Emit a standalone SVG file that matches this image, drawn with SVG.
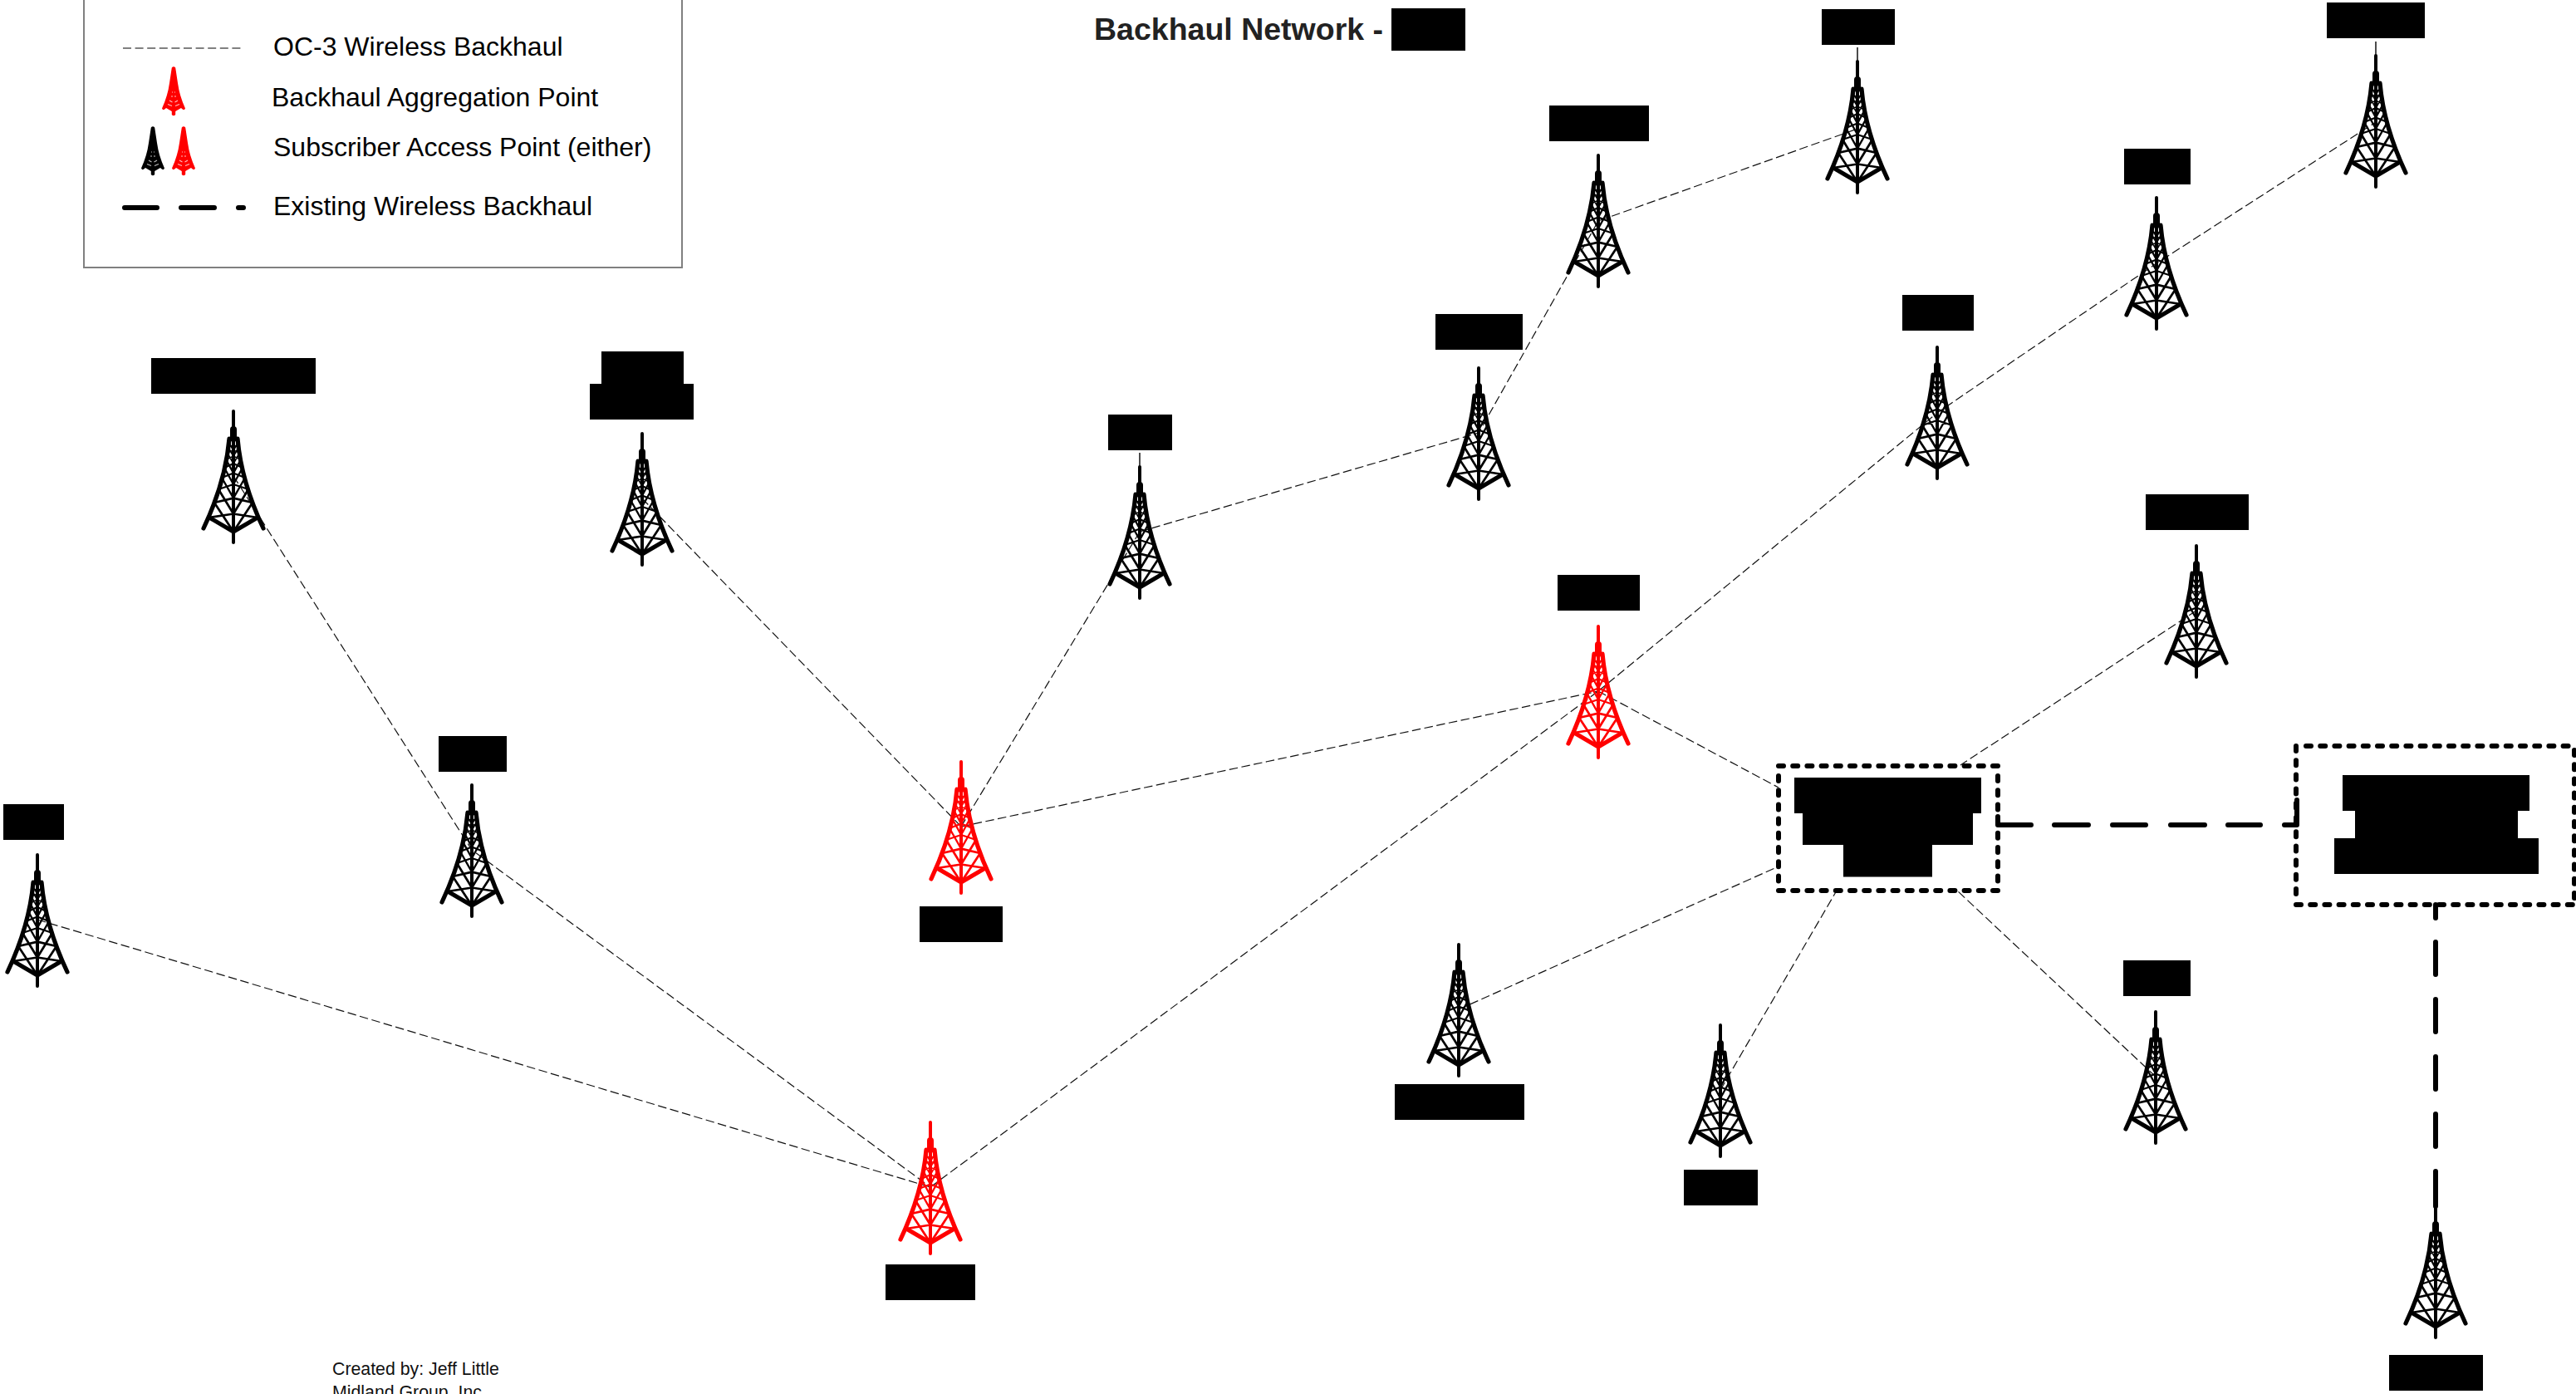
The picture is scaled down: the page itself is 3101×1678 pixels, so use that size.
<svg xmlns="http://www.w3.org/2000/svg" xmlns:xlink="http://www.w3.org/1999/xlink" width="3101" height="1678" viewBox="0 0 3101 1678">
<style>
text{font-family:"Liberation Sans",Arial,sans-serif;fill:#000}
.leg{font-size:32px}
.foot{font-size:21.3px;fill:#111}
.title{font-size:37.5px;font-weight:bold;fill:#222}
.blk{fill:#000}
.t{fill:none;stroke:currentColor;stroke-linecap:round;stroke-linejoin:round}
.black{color:#000}
.red{color:#f00}
.thin{fill:none;stroke:#111;stroke-width:1.2;stroke-dasharray:10.500 4.500}
.ant{fill:none;stroke:#111;stroke-width:1.5}
.heavy{fill:none;stroke:#000;stroke-width:6;stroke-linecap:round;stroke-linejoin:round}
.dot{fill:none;stroke:#000;stroke-width:6;stroke-linecap:round;stroke-dasharray:6 11.200}
</style>
<defs>
<g id="half">
<path class="t" stroke-width="5.200" d="M-5,35C-8,70-18,105-36,143"/>
<path class="t" stroke-width="5" d="M-29,130L0,147"/>
<path class="t" stroke-width="2.700" d="M-29,130L0,125.500M-23,112L0,147M-23,112L0,106.600M-18,96L0,125.500"/>
<path class="t" stroke-width="2.300" d="M-18,96L0,90M-14,82L0,106.600M-14,82L0,76.500M-11,70L0,90M-11,70L0,65M-9,60L0,76.500"/>
<path class="t" stroke-width="1.700" d="M-9,60L0,56.400M-7.500,52L0,65M-7.500,52L0,49M-6.500,45L0,56.400M-6.500,45L0,43M-5.500,40L0,49"/>
</g>
<g id="tower">
<use xlink:href="#half" href="#half"/>
<use xlink:href="#half" href="#half" transform="scale(-1,1)"/>
<path class="t" stroke-width="4" d="M0,2V22M0,147V160"/>
<path class="t" stroke-width="4" d="M0,35V147"/>
<path class="t" stroke-width="8" d="M0,24V35"/>
<path class="t" stroke-width="3.500" d="M-5,35H5"/>
</g>
<g id="mini">
<path fill="currentColor" d="M-2.200,1.500Q0,-1 2.200,1.500L5,20Q7,35 14,50.500Q12.500,54 9,50L2.200,54L2.200,58Q0,60.500-2.200,58L-2.200,54L-9,50Q-12.500,54-14,50.500Q-7,35-5,20Z"/>
<path fill="none" stroke="#fff" stroke-width="1.100" opacity=".75" d="M-2,31H-1M1,31H2M-3,36H-1M1,36H3M-5,41L-1.500,43M5,41L1.500,43M-7,45.500L-2,47.500M7,45.500L2,47.500"/>
</g>
</defs>

<g id="connectors">
<path class="thin" d="M281,573L568,1023L1120,1429"/>
<path class="thin" d="M45,1107L1120,1429"/>
<path class="thin" d="M773,600L1157,995"/>
<path class="thin" d="M1372,640L1157,995"/>
<path class="thin" d="M1372,640L1780,521L1924,266L2236,155"/>
<path class="thin" d="M1157,995L1924,832"/>
<path class="thin" d="M1120,1429L1924,832"/>
<path class="thin" d="M1924,832L2332,497L2596,317L2860,147"/>
<path class="thin" d="M1924,832L2141,948"/>
<path class="thin" d="M2644,735L2360,921"/>
<path class="thin" d="M1756,1215L2141,1043"/>
<path class="thin" d="M2071,1312L2211,1072"/>
<path class="thin" d="M2595,1296L2356,1072"/>
<path class="heavy" d="M2405,983V993H2445M2473,993H2514M2543,993H2583M2613,993H2654M2682,993H2721M2750,993H2765V963"/>
<path class="heavy" d="M2932,1089V1105M2932,1134V1173M2932,1203V1242M2932,1272V1311M2932,1341V1380M2932,1410V1452"/>
</g>

<g id="legend">
<path fill="none" stroke="#808080" stroke-width="2" d="M101,-2V322H821V-2"/>
<path fill="none" stroke="#808080" stroke-width="2" stroke-dasharray="10 4.600" d="M148,58H294"/>
<use xlink:href="#mini" href="#mini" class="red" transform="translate(209,80)"/>
<use xlink:href="#mini" href="#mini" class="black" transform="translate(184,152)"/>
<use xlink:href="#mini" href="#mini" class="red" transform="translate(221,152)"/>
<path class="heavy" d="M150,250H189M218,250H258M287,250H293"/>
<text class="leg" x="329" y="67">OC-3 Wireless Backhaul</text>
<text class="leg" x="327" y="128">Backhaul Aggregation Point</text>
<text class="leg" x="329" y="188">Subscriber Access Point (either)</text>
<text class="leg" x="329" y="259">Existing Wireless Backhaul</text>
</g>

<g id="title"><text class="title" x="1317" y="48">Backhaul Network - </text><rect class="blk" x="1675" y="10" width="89" height="51"/></g>
<g id="footer"><text class="foot" x="400" y="1655">Created by: Jeff Little</text><text class="foot" x="400" y="1683">Midland Group, Inc</text></g>

<g id="t1"><use xlink:href="#tower" href="#tower" class="black" transform="translate(281,493)"/><rect class="blk" x="182" y="431" width="198" height="43"/></g>
<g id="t2"><use xlink:href="#tower" href="#tower" class="black" transform="translate(773,520)"/><rect class="blk" x="724" y="423" width="99" height="41"/><rect class="blk" x="710" y="462" width="125" height="43"/></g>
<g id="t3"><use xlink:href="#tower" href="#tower" class="black" transform="translate(1372,560)"/><path class="ant" d="M1372,545V561"/><rect class="blk" x="1334" y="499" width="77" height="43"/></g>
<g id="t4"><use xlink:href="#tower" href="#tower" class="black" transform="translate(1780,441)"/><rect class="blk" x="1728" y="378" width="105" height="43"/></g>
<g id="t5"><use xlink:href="#tower" href="#tower" class="black" transform="translate(1924,185)"/><rect class="blk" x="1865" y="127" width="120" height="43"/></g>
<g id="t6"><use xlink:href="#tower" href="#tower" class="black" transform="translate(2236,72)"/><path class="ant" d="M2236,57V73"/><rect class="blk" x="2193" y="11" width="88" height="43"/></g>
<g id="t7"><use xlink:href="#tower" href="#tower" class="black" transform="translate(2860,65)"/><path class="ant" d="M2860,50V66"/><rect class="blk" x="2801" y="3" width="118" height="43"/></g>
<g id="t8"><use xlink:href="#tower" href="#tower" class="black" transform="translate(2596,236)"/><rect class="blk" x="2557" y="179" width="80" height="43"/></g>
<g id="t9"><use xlink:href="#tower" href="#tower" class="black" transform="translate(2332,416)"/><rect class="blk" x="2290" y="355" width="86" height="43"/></g>
<g id="t10"><use xlink:href="#tower" href="#tower" class="black" transform="translate(2644,655)"/><rect class="blk" x="2583" y="595" width="124" height="43"/></g>
<g id="r11"><use xlink:href="#tower" href="#tower" class="red" transform="translate(1924,752)"/><rect class="blk" x="1875" y="692" width="99" height="43"/></g>
<g id="r12"><use xlink:href="#tower" href="#tower" class="red" transform="translate(1157,915)"/><rect class="blk" x="1107" y="1091" width="100" height="43"/></g>
<g id="r13"><use xlink:href="#tower" href="#tower" class="red" transform="translate(1120,1349)"/><rect class="blk" x="1066" y="1522" width="108" height="43"/></g>
<g id="t14"><use xlink:href="#tower" href="#tower" class="black" transform="translate(568,943)"/><rect class="blk" x="528" y="886" width="82" height="43"/></g>
<g id="t15"><use xlink:href="#tower" href="#tower" class="black" transform="translate(45,1027)"/><rect class="blk" x="4" y="968" width="73" height="43"/></g>
<g id="t16"><use xlink:href="#tower" href="#tower" class="black" transform="translate(1756,1135)"/><rect class="blk" x="1679" y="1305" width="156" height="43"/></g>
<g id="t17"><use xlink:href="#tower" href="#tower" class="black" transform="translate(2071,1232)"/><rect class="blk" x="2027" y="1408" width="89" height="43"/></g>
<g id="t18"><use xlink:href="#tower" href="#tower" class="black" transform="translate(2595,1216)"/><rect class="blk" x="2556" y="1156" width="81" height="43"/></g>
<g id="t19"><use xlink:href="#tower" href="#tower" class="black" transform="translate(2932,1450)"/><rect class="blk" x="2876" y="1631" width="113" height="43"/></g>

<g id="box1">
<path class="dot" d="M2141,922H2405M2141,1072H2405M2141,934V1066M2405,934V1066"/>
<rect class="blk" x="2160" y="936" width="225" height="43"/>
<rect class="blk" x="2170" y="979" width="205" height="38"/>
<rect class="blk" x="2219" y="1016.500" width="107" height="39"/>
</g>
<g id="box2">
<path class="dot" d="M2776,898H3099M2764,1089H3099M2764,898V1078M3099,903V1082"/>
<rect class="blk" x="2820" y="933" width="225" height="43"/>
<rect class="blk" x="2835" y="976" width="196" height="34"/>
<rect class="blk" x="2810" y="1009" width="246" height="43"/>
</g>
</svg>
